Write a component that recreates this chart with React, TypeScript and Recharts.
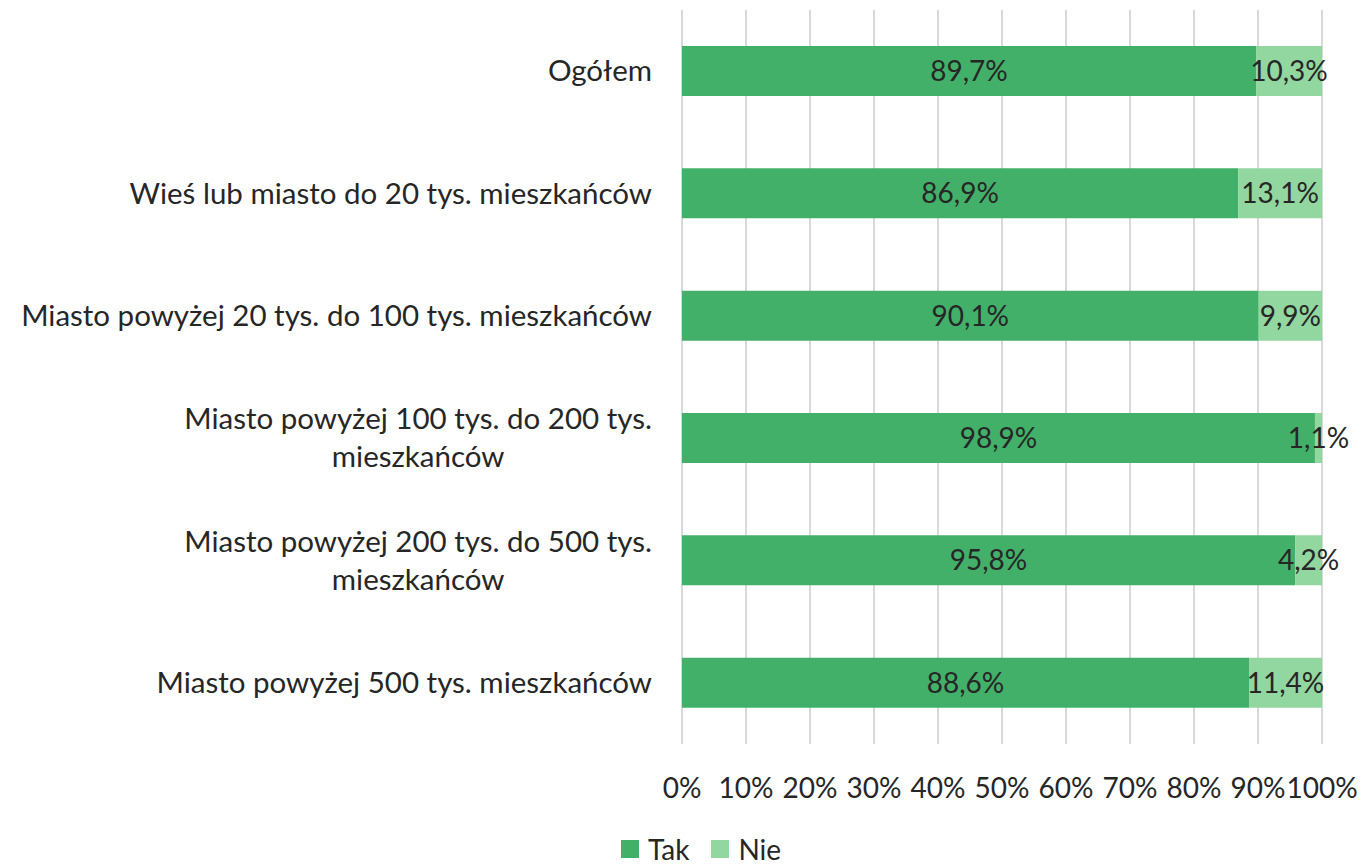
import React from 'react';
import { BarChart, Bar, XAxis, YAxis, CartesianGrid, Legend, LabelList } from 'recharts';

const categories = [
  'Ogółem',
  'Wieś lub miasto do 20 tys. mieszkańców',
  'Miasto powyżej 20 tys. do 100 tys. mieszkańców',
  'Miasto powyżej 100 tys. do 200 tys.\nmieszkańców',
  'Miasto powyżej 200 tys. do 500 tys.\nmieszkańców',
  'Miasto powyżej 500 tys. mieszkańców',
];
const takValues = [89.7, 86.9, 90.1, 98.9, 95.8, 88.6];
const nieValues = [10.3, 13.1, 9.9, 1.1, 4.2, 11.4];
const xTicks = [0, 10, 20, 30, 40, 50, 60, 70, 80, 90, 100];

const data = categories.map((name, i) => ({ name, tak: takValues[i], nie: nieValues[i] }));

const FONT = 'Lato';
const FS_CAT = 29.5;
const FS = 28;
const TEXT = '#262626';
const TAK = '#43B06A';
const NIE = '#92D6A0';

let ctx: CanvasRenderingContext2D | null = null;
const measure = (s: string) => {
  if (!ctx) ctx = document.createElement('canvas').getContext('2d');
  if (!ctx) return s.length * FS_CAT * 0.5;
  ctx.font = `${FS_CAT}px ${FONT}`;
  return ctx.measureText(s).width;
};

const fmt = (v: number) => `${v.toFixed(1).replace('.', ',')}%`;

const YTick = (props: any) => {
  const { x, y, payload } = props;
  const lines = String(payload.value).split('\n');
  const right = x - 22;
  if (lines.length === 1) {
    return (
      <text x={right} y={y} dy="0.35em" textAnchor="end" fill={TEXT} fontSize={FS_CAT} fontFamily={FONT}>
        {lines[0]}
      </text>
    );
  }
  const w = Math.max(...lines.map(measure));
  const cx = right - w / 2;
  const lh = 38;
  const start = y - ((lines.length - 1) * lh) / 2;
  return (
    <text x={cx} y={start} textAnchor="middle" fill={TEXT} fontSize={FS_CAT} fontFamily={FONT}>
      {lines.map((l, i) => (
        <tspan key={i} x={cx} y={start + i * lh} dy="0.35em">{l}</tspan>
      ))}
    </text>
  );
};

const LegendContent = () => (
  <div style={{ display: 'flex', justifyContent: 'center', alignItems: 'center', height: 40, paddingTop: 8, boxSizing: 'border-box', paddingLeft: 58, fontFamily: FONT, fontSize: FS, color: TEXT }}>
    {[{ n: 'Tak', c: TAK }, { n: 'Nie', c: NIE }].map((it) => (
      <div key={it.n} style={{ display: 'flex', alignItems: 'center', marginRight: 22 }}>
        <div style={{ width: 18, height: 18, background: it.c, marginRight: 9 }} />
        <span>{it.n}</span>
      </div>
    ))}
  </div>
);

export default function App() {
  return (
    <div style={{ position: 'absolute', left: 0, top: 0, width: 1366, height: 865, background: '#fff' }}>
      <BarChart
        width={1366}
        height={865}
        data={data}
        layout="vertical"
        margin={{ top: 10, right: 44, left: 0, bottom: 11 }}
      >
        <CartesianGrid horizontal={false} stroke="#D9D9D9" strokeWidth={2} />
        <XAxis
          type="number"
          domain={[0, 100]}
          ticks={xTicks}
          tickFormatter={(v: number) => `${v}%`}
          axisLine={false}
          tickLine={false}
          tickMargin={28}
          height={70}
          interval={0}
          tick={{ fill: TEXT, fontSize: FS, fontFamily: FONT }}
        />
        <YAxis
          type="category"
          dataKey="name"
          width={682}
          axisLine={false}
          tickLine={false}
          interval={0}
          tick={<YTick />}
        />
        <Legend content={<LegendContent />} wrapperStyle={{ left: 0, bottom: 0, width: 1366, height: 40 }} />
        <Bar dataKey="tak" name="Tak" stackId="a" fill={TAK} barSize={50} isAnimationActive={false}>
          <LabelList dataKey="tak" position="center" formatter={fmt} fill={TEXT} fontSize={FS} fontFamily={FONT} />
        </Bar>
        <Bar dataKey="nie" name="Nie" stackId="a" fill={NIE} barSize={50} isAnimationActive={false}>
          <LabelList dataKey="nie" position="center" formatter={fmt} fill={TEXT} fontSize={FS} fontFamily={FONT} />
        </Bar>
      </BarChart>
    </div>
  );
}
